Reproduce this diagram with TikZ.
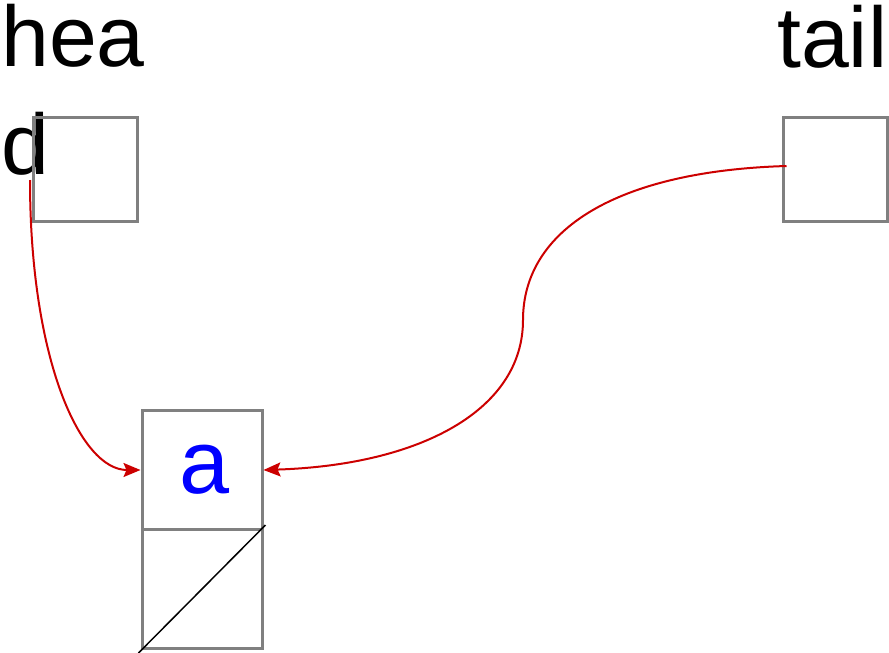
\documentclass[tikz,border=0pt]{standalone}
\usepackage{fontspec}
\setmainfont{Liberation Sans}
\usetikzlibrary{arrows.meta}
\definecolor{boxgray}{HTML}{808080}
\definecolor{ptrred}{HTML}{CC0000}
\tikzset{
  cell/.style={draw=boxgray, line width=3pt, rectangle, inner sep=0pt},
  ptr/.style={draw=ptrred, line width=2pt, -{Stealth[length=17pt,width=14pt,inset=3pt]}},
  label/.style={inner sep=0pt, font=\fontsize{86}{108}\selectfont}
}
\begin{document}
\begin{tikzpicture}[x=1pt,y=-1pt]
\useasboundingbox (0,0) rectangle (889,653);
\node[label, anchor=north west, align=left] (headlabel) at (1,4) {hea\\d};
\node[label, anchor=base west] (taillabel) at (777,67) {tail};
\node[cell, minimum width=104pt, minimum height=104pt] (headbox) at (85.5,169) {};
\node[cell, minimum width=104pt, minimum height=104pt] (tailbox) at (835,169) {};
\node[cell, minimum width=120pt, minimum height=119pt, text=blue, font=\fontsize{90}{100}\selectfont] (anode) at (202,470) {\hspace*{6pt}a};
\node[cell, minimum width=120pt, minimum height=119pt] (nextbox) at (202,589) {};
\draw[line width=1.5pt] ([shift={(-2,3)}]nextbox.south west) -- ([shift={(2,-3)}]nextbox.north east);
\coordinate (bend) at (523,320);
\draw[ptr] ([shift={(-2,11)}]headbox.west) .. controls +(0,180) and +(-60,0) .. (anode.west);
\draw[ptr] ([shift={(5,-3)}]tailbox.west) .. controls +(-170,5) and +(0,-90) .. (bend)
  .. controls +(0,90) and +(157,-5) .. (anode.east);
\end{tikzpicture}
\end{document}
